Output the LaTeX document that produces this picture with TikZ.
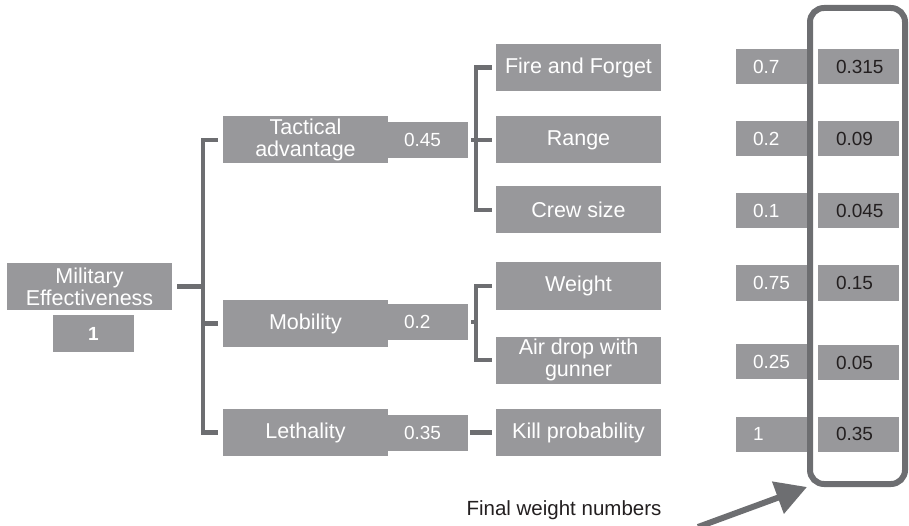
\documentclass[tikz,border=0pt]{standalone}
\usepackage{fontspec}
\setmainfont{Liberation Sans}
\usetikzlibrary{arrows.meta}
\definecolor{boxgray}{RGB}{152,152,155}
\definecolor{linegray}{RGB}{109,110,113}
\definecolor{numdark}{RGB}{35,31,32}

\begin{document}
\begin{tikzpicture}[x=1pt,y=-1pt,
  crit/.style={fill=boxgray, text=white, inner sep=0pt, minimum width=165pt, minimum height=47pt, align=center, font=\fontsize{21.5}{22}\selectfont},
  wbox/.style={fill=boxgray, text=white, inner xsep=16pt, inner ysep=0pt, text width=48pt, minimum height=36pt, align=left, font=\fontsize{19}{20}\selectfont},
  lbox/.style={wbox, inner xsep=17pt, text width=40pt, minimum height=35pt},
  finalbox/.style={wbox, text=numdark, inner xsep=18pt, text width=45pt, minimum height=35pt},
  link/.style={draw=linegray, line width=4.5pt},
]
\useasboundingbox (0,0) rectangle (909,526);

\node[crit] (me) at (89.5,286.5) {Military\\Effectiveness};
\node[crit, minimum width=81pt, minimum height=37pt, font=\fontsize{19}{20}\selectfont\bfseries] (meval) at (93.5,333.5) {1};

\node[crit] (tac) at (305.5,140) {Tactical\\advantage};
\node[wbox] (tacw) at (428,140) {0.45};
\node[crit] (mob) at (305.5,323.5) {Mobility};
\node[wbox] (mobw) at (428,322) {0.2};
\node[crit] (leth) at (305.5,432.5) {Lethality};
\node[wbox] (lethw) at (428,432.5) {0.35};

\node[crit] (fire) at (578.5,67.5) {Fire and Forget};
\node[crit] (range) at (578.5,140) {Range};
\node[crit] (crew) at (578.5,210) {Crew size};
\node[crit] (weight) at (578.5,286) {Weight};
\node[crit] (air) at (578.5,360) {Air drop with\\gunner};
\node[crit] (kill) at (578.5,432.5) {Kill probability};

% local weights
\node[lbox] (w1) at (773,66.5) {0.7};
\node[lbox] (w2) at (773,138.5) {0.2};
\node[lbox] (w3) at (773,210.5) {0.1};
\node[lbox] (w4) at (773,283) {0.75};
\node[lbox] (w5) at (773,361.5) {0.25};
\node[lbox] (w6) at (773,434) {1};

% final weights
\node[finalbox] (f1) at (858.5,66.5) {0.315};
\node[finalbox] (f2) at (858.5,138.5) {0.09};
\node[finalbox] (f3) at (858.5,210.5) {0.045};
\node[finalbox] (f4) at (858.5,283) {0.15};
\node[finalbox] (f5) at (858.5,362.5) {0.05};
\node[finalbox] (f6) at (858.5,434) {0.35};

% tree lines
\draw[link, shorten <=5pt] (me.east) -- ++(31,0);
\draw[link] ([xshift=-5pt]tac.west) -- ++(-15,0) |- ([xshift=-5pt]leth.west);
\draw[link] ([xshift=-5pt]mob.west) -- ++(-15,0);
\draw[link] ([xshift=-4pt]fire.west) -- ++(-16,0) |- ([xshift=-4pt]crew.west);
\draw[link, shorten <=3pt, shorten >=4pt] (tacw.east) -- (range.west);
\draw[link] ([xshift=-4pt]weight.west) -- ++(-16,0) |- ([xshift=-4pt]air.west);
\draw[link, shorten <=3pt] (mobw.east) -- ++(8,0);
\draw[link, shorten <=2pt, shorten >=4pt] (lethw.east) -- (kill.west);

% frame and note
\node[draw=linegray, line width=6pt, rounded corners=14pt, inner sep=0pt, minimum width=95pt, minimum height=476pt] (frame) at (857.5,246) {};
\node[text=numdark, font=\fontsize{20.5}{21}\selectfont] (note) at (564,510) {Final weight numbers};
\coordinate (tail) at (698,527);
\draw[draw=linegray, line width=6pt, -{Triangle[length=31pt,width=33pt]}] (tail) -- (frame.south west);
\end{tikzpicture}
\end{document}
